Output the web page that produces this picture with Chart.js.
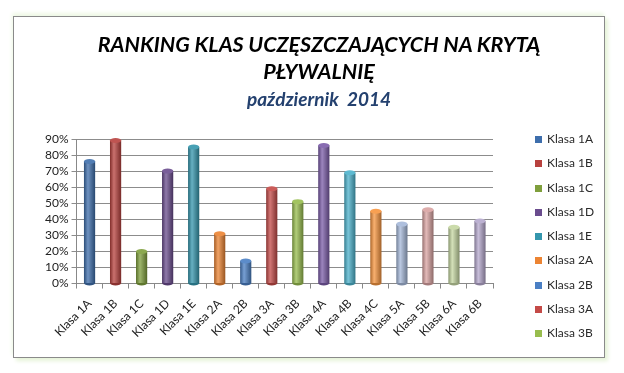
<!DOCTYPE html>
<html>
<head>
<meta charset="utf-8">
<script src="https://cdn.jsdelivr.net/npm/chart.js@4.4.0/dist/chart.umd.min.js"></script>
<style>
  body { margin: 0; background: #fff; }
  #frame {
    position: absolute; left: 13px; top: 16px;
    width: 590px; height: 340px;
    border: 1px solid #8a8a8a;
    box-shadow: 3px 3px 4px #e6f3d8, -1px -3px 4px #eef8e4;
    background: #fff;
  }
  canvas { display: block; }
  .title {
    position: absolute; left: 0; width: 590px; text-align: center; box-sizing: border-box; padding-left: 20px;
    font-family: Lato, sans-serif; font-weight: bold; font-style: italic; white-space: pre;
  }
  #title1 { top: 13px; font-size: 21.5px; line-height: 28px; color: #000; }
  #title2 { top: 40px; font-size: 21.5px; line-height: 28px; color: #000; }
  #subtitle { top: 70px; font-size: 19px; line-height: 24px; color: #24416f; }
  #legend {
    position: absolute; left: 521px; top: 110px;
    margin: 0; padding: 0; list-style: none;
    font-family: Lato, sans-serif; font-size: 12px; color: #2a2a2a;
  }
  #legend li { height: 24.25px; line-height: 24.25px; white-space: nowrap; }
  #legend span { display: inline-block; width: 7px; height: 7px; margin-right: 5px; vertical-align: 0px; }
</style>
</head>
<body>
<div id="frame">
  <canvas id="myChart" width="590" height="340"></canvas>
  <div class="title" id="title1"></div>
  <div class="title" id="title2"></div>
  <div class="title" id="subtitle"></div>
  <ul id="legend"></ul>
</div>
<script>
'use strict'

const titleLines = ['RANKING KLAS UCZĘSZCZAJĄCYCH NA KRYTĄ', 'PŁYWALNIĘ'];
const subtitleText = 'październik  2014';
const classNames = ['Klasa 1A', 'Klasa 1B', 'Klasa 1C', 'Klasa 1D', 'Klasa 1E', 'Klasa 2A', 'Klasa 2B', 'Klasa 3A',
  'Klasa 3B', 'Klasa 4A', 'Klasa 4B', 'Klasa 4C', 'Klasa 5A', 'Klasa 5B', 'Klasa 6A', 'Klasa 6B'];
const attendance = [76, 89, 20, 70, 85, 31, 14, 59, 51, 86, 69, 45, 37, 46, 35, 39];
const barColors = ['#3e6eac', '#b8413e', '#7f9f3c', '#6a4c8e', '#3496ad', '#ec8433', '#4a7fc4', '#c44a47',
  '#98bd4e', '#7b5ca8', '#4cb2cc', '#f7953f', '#a5b8d9', '#d9a3a2', '#c5d7a2', '#b5a8cd'];
// only the first nine fit in the legend box
const legendShown = 9;

function shade(hex, amt) {
  let r = parseInt(hex.slice(1, 3), 16);
  let g = parseInt(hex.slice(3, 5), 16);
  let b = parseInt(hex.slice(5, 7), 16);
  if (amt > 0) {
    r = r + (255 - r) * amt; g = g + (255 - g) * amt; b = b + (255 - b) * amt;
  } else {
    r = r * (1 + amt); g = g * (1 + amt); b = b * (1 + amt);
  }
  return 'rgb(' + Math.round(r) + ',' + Math.round(g) + ',' + Math.round(b) + ')';
}

// gives the bars a round cylinder look
const cylinders = {
  id: 'cylinders',
  beforeDatasetsDraw(chart) {
    const ctx = chart.ctx;
    const meta = chart.getDatasetMeta(0);
    meta.data.forEach(function(bar, i) {
      const w = bar.width;
      const grad = ctx.createLinearGradient(bar.x - w / 2, 0, bar.x + w / 2, 0);
      grad.addColorStop(0, shade(barColors[i], -0.3));
      grad.addColorStop(0.35, shade(barColors[i], 0.25));
      grad.addColorStop(1, shade(barColors[i], -0.35));
      bar.options.backgroundColor = grad;
    });
  },
  afterDatasetsDraw(chart) {
    const ctx = chart.ctx;
    const meta = chart.getDatasetMeta(0);
    meta.data.forEach(function(bar, i) {
      const w = bar.width;
      ctx.save();
      // bottom round
      ctx.beginPath();
      ctx.ellipse(bar.x, bar.base, w / 2, 2.5, 0, 0, Math.PI);
      ctx.fillStyle = shade(barColors[i], -0.25);
      ctx.fill();
      // top cap
      ctx.beginPath();
      ctx.ellipse(bar.x, bar.y, w / 2, 2.5, 0, 0, Math.PI * 2);
      ctx.fillStyle = shade(barColors[i], 0.1);
      ctx.fill();
      ctx.restore();
    });
  }
};

function makeTitles() {
  document.getElementById('title1').textContent = titleLines[0];
  document.getElementById('title2').textContent = titleLines[1];
  document.getElementById('subtitle').textContent = subtitleText;
}

function makeLegend() {
  const list = document.getElementById('legend');
  for (let i = 0; i < legendShown; i++) {
    const li = document.createElement('li');
    const box = document.createElement('span');
    box.style.background = barColors[i];
    li.appendChild(box);
    li.appendChild(document.createTextNode(classNames[i]));
    list.appendChild(li);
  }
}

const ctx = document.getElementById('myChart').getContext('2d');

const myChart = new Chart(ctx, {
  type: 'bar',
  data: {
    labels: classNames,
    datasets: [{
      label: 'Ranking',
      data: attendance,
      backgroundColor: barColors,
      borderWidth: 0,
      barPercentage: 0.43,
      categoryPercentage: 1
    }]
  },
  plugins: [cylinders],
  options: {
    responsive: false,
    animation: false,
    layout: { padding: { top: 122, left: 28, right: 111, bottom: 9 } },
    plugins: {
      legend: { display: false },
      tooltip: { enabled: false }
    },
    scales: {
      x: {
        grid: { display: true, drawOnChartArea: false, drawTicks: true, tickLength: 5, color: '#888', offset: true },
        border: { color: '#888' },
        ticks: { minRotation: 45, maxRotation: 45, color: '#222', font: { family: 'Lato', size: 12 }, padding: 8 }
      },
      y: {
        min: 0,
        max: 90,
        ticks: {
          stepSize: 10,
          autoSkip: false,
          color: '#222',
          font: { family: 'Lato', size: 12, lineHeight: 1 },
          callback: function(v) { return v + '%'; }
        },
        grid: { color: '#8c8c8c', tickLength: 5 },
        border: { color: '#888' }
      }
    }
  }
});

makeTitles();
makeLegend();
</script>
</body>
</html>
